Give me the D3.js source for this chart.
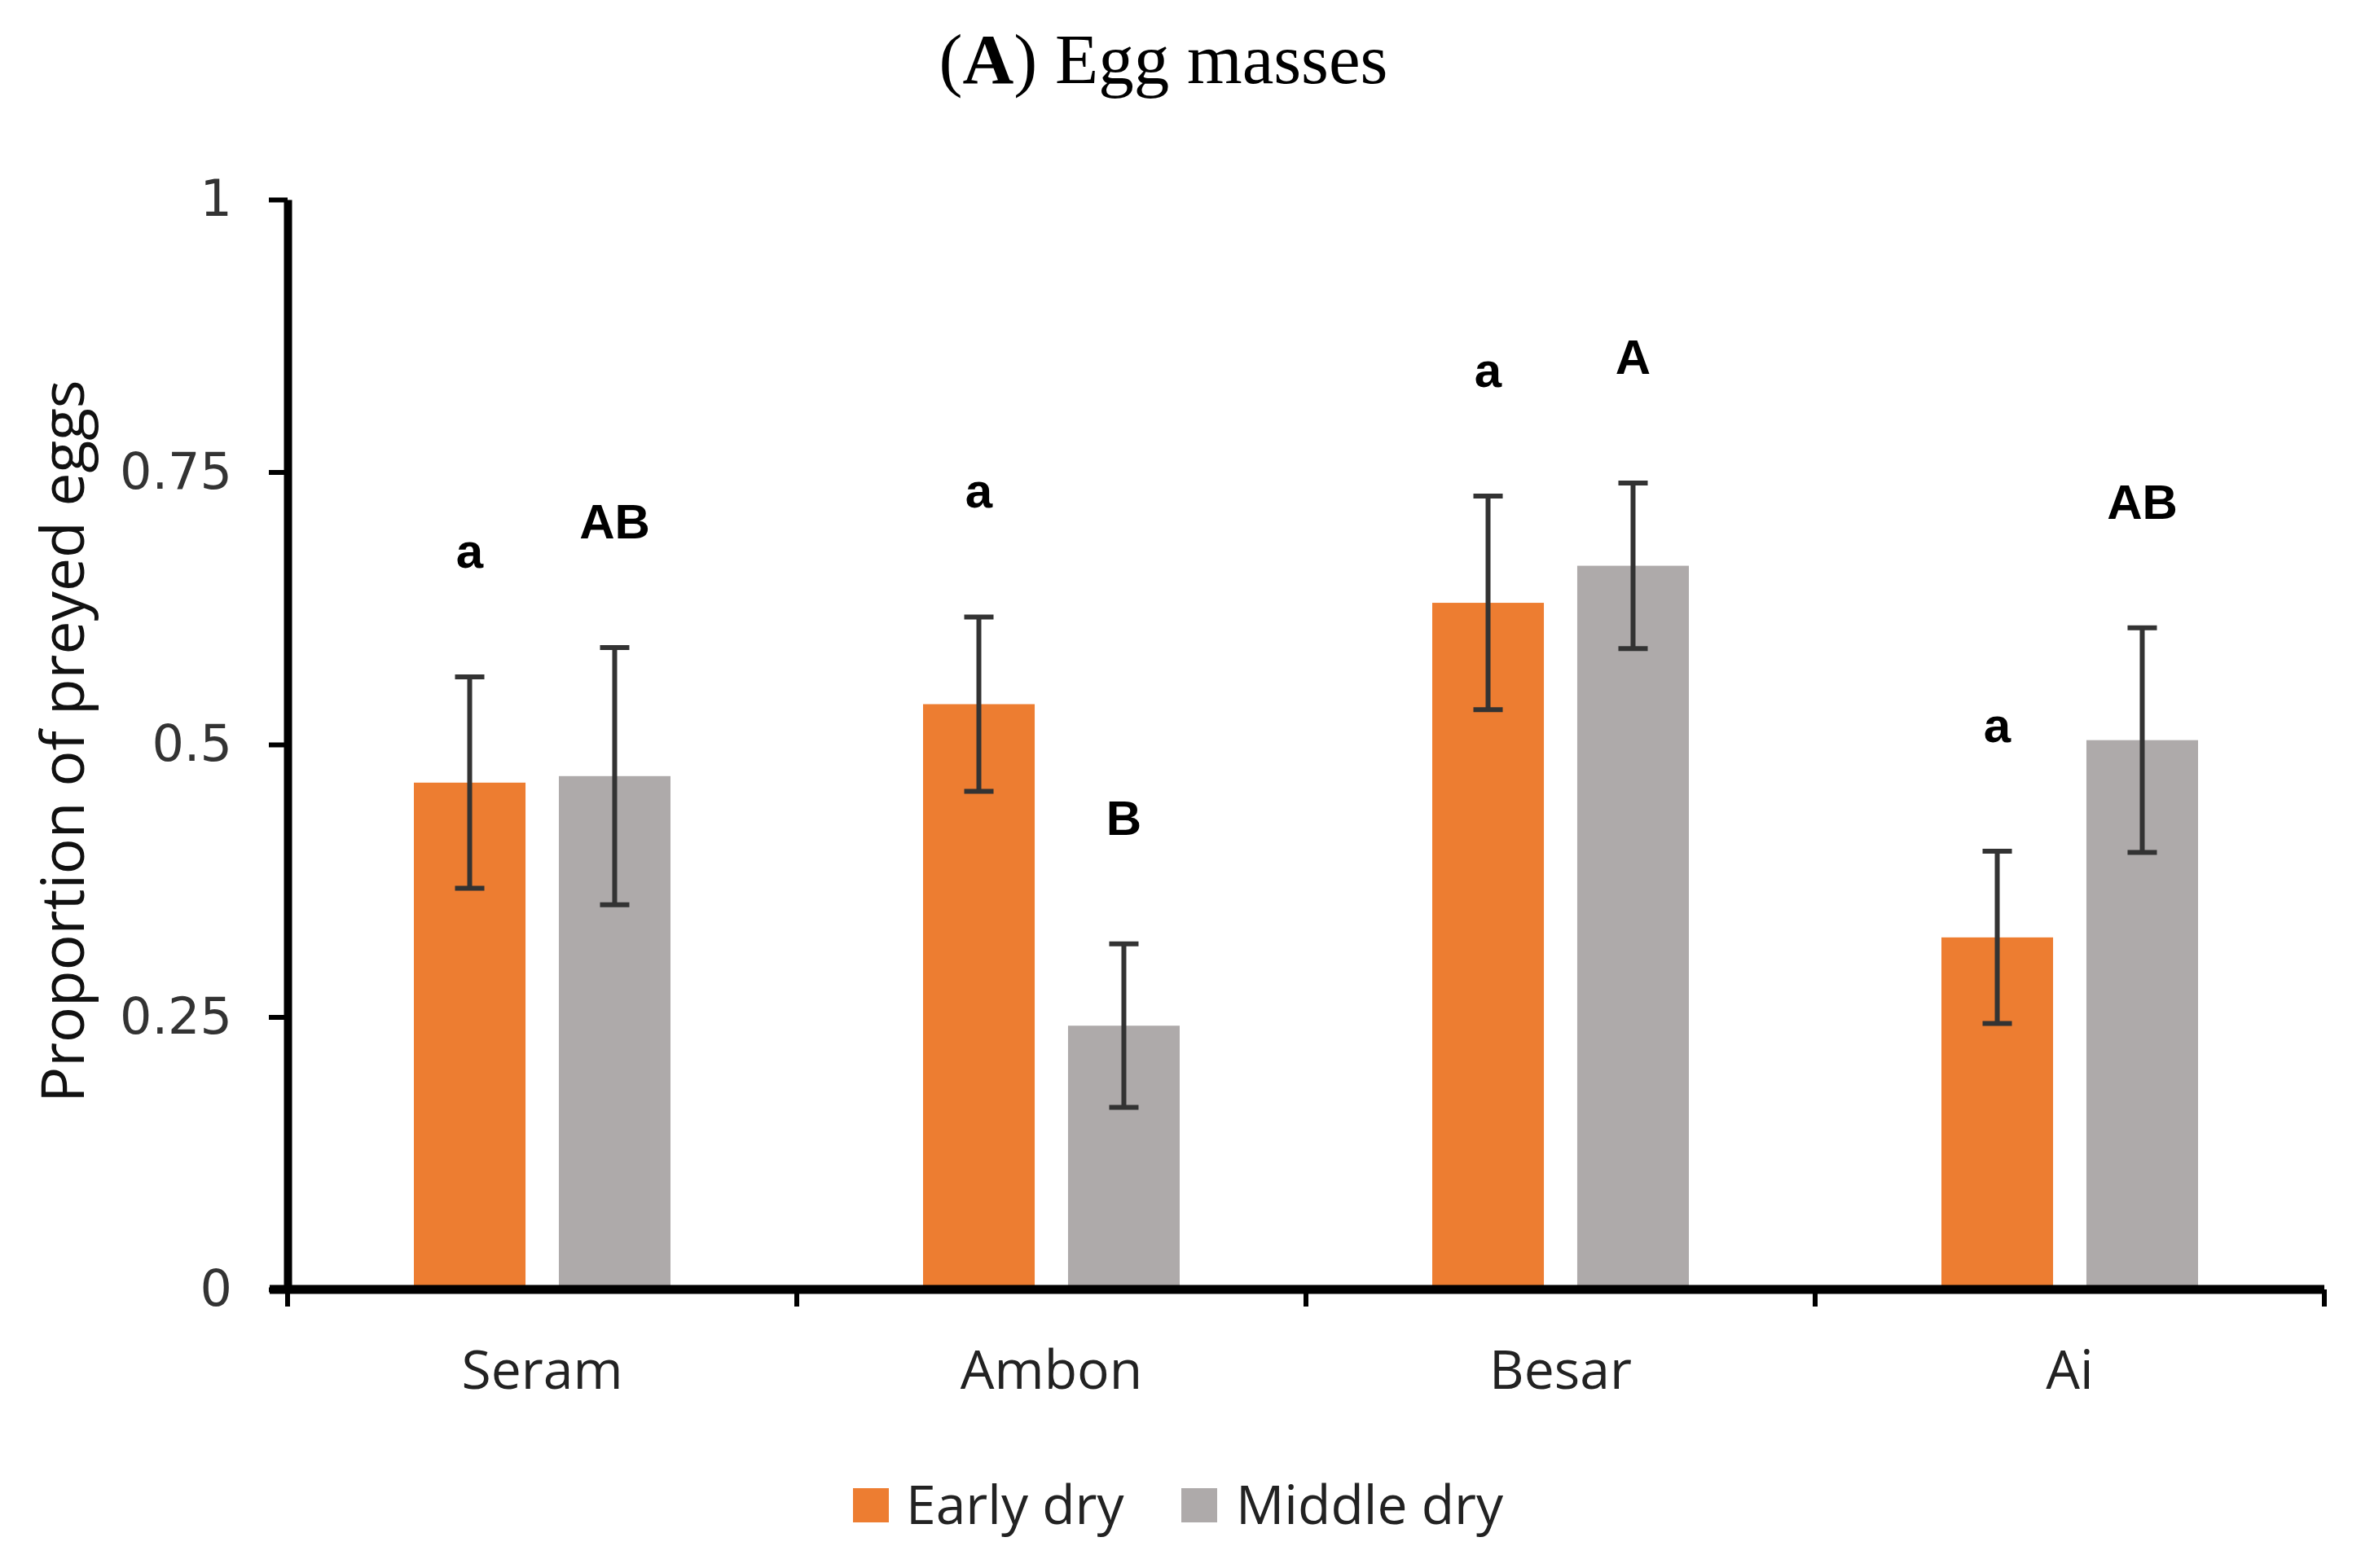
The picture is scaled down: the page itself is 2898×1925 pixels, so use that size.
<!DOCTYPE html>
<html>
<head>
<meta charset="utf-8">
<script src="https://cdn.jsdelivr.net/npm/d3@7"></script>
<style>
  body { margin: 0; background: #fff; }
  svg { display: block; }
</style>
</head>
<body>
<svg id="chart" width="2898" height="1925"></svg>
<script>
// Data
const islands = ["Seram", "Ambon", "Besar", "Ai"];
const seasons = ["Early dry", "Middle dry"];
const earlyDry = [0.465, 0.537, 0.630, 0.323];
const middleDry = [0.471, 0.242, 0.664, 0.504];
const earlyErr = [0.097, 0.080, 0.098, 0.079];
const middleErr = [0.118, 0.075, 0.076, 0.103];
const earlyLetters = ["a", "a", "a", "a"];
const middleLetters = ["AB", "B", "A", "AB"];
const yTicks = [0, 0.25, 0.5, 0.75, 1];
const yTickLabels = ["0", "0.25", "0.5", "0.75", "1"];

const colors = { "Early dry": "#ED7D31", "Middle dry": "#AEAAAA" };

// =======================================================================================
// Build the rows the bars are drawn from

const rows = [];
islands.forEach((island, i) => {
  rows.push({ island, season: "Early dry", value: earlyDry[i], err: earlyErr[i], letter: earlyLetters[i] });
  rows.push({ island, season: "Middle dry", value: middleDry[i], err: middleErr[i], letter: middleLetters[i] });
});

const svg = d3.select("#chart");

// Plot area
const plotLeft = 353, plotRight = 2853, plotTop = 245, plotBottom = 1583;

// Scales
const x0 = d3.scaleBand().domain(islands).range([plotLeft, plotRight]).padding(0);
const groupWidth = 315;
const x1 = d3.scaleBand().domain(seasons).range([0, groupWidth]).paddingInner(0.23).paddingOuter(0);
const groupOffset = (x0.bandwidth() - groupWidth) / 2;
const y = d3.scaleLinear().domain([0, 1]).range([plotBottom, plotTop]);

const barX = d => x0(d.island) + groupOffset + x1(d.season);

// Title
const title = svg.append("text")
  .attr("x", 1428)
  .attr("y", 102)
  .attr("text-anchor", "middle")
  .style("font-family", "'Liberation Serif', 'Times New Roman', serif")
  .style("font-size", "87px")
  .attr("fill", "#000");
title.append("tspan").text("(");
title.append("tspan").style("font-weight", "bold").text("A");
title.append("tspan").text(") Egg masses");

// Bars
svg.append("g")
  .selectAll("rect")
  .data(rows)
  .enter().append("rect")
  .attr("x", barX)
  .attr("y", d => y(d.value))
  .attr("width", x1.bandwidth())
  .attr("height", d => y(0) - y(d.value))
  .attr("fill", d => colors[d.season]);

// Error bars
const capHalf = 18;
const errG = svg.append("g")
  .attr("stroke", "#333")
  .attr("stroke-width", 6);

rows.forEach(d => {
  const cx = barX(d) + x1.bandwidth() / 2;
  errG.append("line")
    .attr("x1", cx).attr("x2", cx)
    .attr("y1", y(d.value + d.err)).attr("y2", y(d.value - d.err));
  errG.append("line")
    .attr("x1", cx - capHalf).attr("x2", cx + capHalf)
    .attr("y1", y(d.value + d.err)).attr("y2", y(d.value + d.err));
  errG.append("line")
    .attr("x1", cx - capHalf).attr("x2", cx + capHalf)
    .attr("y1", y(d.value - d.err)).attr("y2", y(d.value - d.err));
});

// Significance letters
svg.append("g")
  .selectAll("text")
  .data(rows)
  .enter().append("text")
  .attr("x", d => barX(d) + x1.bandwidth() / 2)
  .attr("y", d => y(d.value + d.err) - 134)
  .attr("text-anchor", "middle")
  .style("font-family", "'Liberation Sans', Arial, sans-serif")
  .style("font-weight", "bold")
  .style("font-size", "60px")
  .attr("fill", "#000")
  .text(d => d.letter);

// Y axis
const yAxis = d3.axisLeft(y)
  .tickValues(yTicks)
  .tickFormat((d, i) => yTickLabels[i])
  .tickSize(23)
  .tickSizeOuter(0)
  .tickPadding(45);

const yAxisG = svg.append("g")
  .attr("transform", `translate(${plotLeft},0)`)
  .call(yAxis);
yAxisG.select(".domain").attr("stroke", "#000").attr("stroke-width", 10);
yAxisG.selectAll(".tick line").attr("stroke", "#000").attr("stroke-width", 6);
yAxisG.selectAll(".tick text")
  .style("font-family", "'DejaVu Sans', sans-serif")
  .style("font-size", "62px")
  .attr("fill", "#333");

// X axis: line plus ticks on category boundaries
const xAxisG = svg.append("g");
xAxisG.append("line")
  .attr("x1", plotLeft - 22).attr("x2", plotRight)
  .attr("y1", y(0)).attr("y2", y(0))
  .attr("stroke", "#000").attr("stroke-width", 11);

const boundaries = islands.map(d => x0(d)).concat([x0(islands[islands.length - 1]) + x0.bandwidth()]);
xAxisG.selectAll(".bound")
  .data(boundaries)
  .enter().append("line")
  .attr("x1", d => d).attr("x2", d => d)
  .attr("y1", y(0)).attr("y2", y(0) + 21)
  .attr("stroke", "#000").attr("stroke-width", 6);

xAxisG.selectAll(".cat")
  .data(islands)
  .enter().append("text")
  .attr("x", d => x0(d) + x0.bandwidth() / 2)
  .attr("y", 1705)
  .attr("text-anchor", "middle")
  .style("font-family", "'Open Sans', sans-serif")
  .style("font-size", "66px")
  .attr("fill", "#222")
  .text(d => d);

// Y axis title
svg.append("text")
  .attr("transform", "translate(103,910) rotate(-90)")
  .attr("text-anchor", "middle")
  .style("font-family", "'Open Sans', sans-serif")
  .style("font-size", "73px")
  .attr("fill", "#111")
  .text("Proportion of preyed eggs");

// Legend
const legendItems = [
  { name: seasons[0], x: 1047, tx: 1112 },
  { name: seasons[1], x: 1450, tx: 1517 }
];
const legend = svg.append("g");
legendItems.forEach(item => {
  legend.append("rect")
    .attr("x", item.x).attr("y", 1827)
    .attr("width", 44).attr("height", 42)
    .attr("fill", colors[item.name]);
  legend.append("text")
    .attr("x", item.tx).attr("y", 1871)
    .style("font-family", "'Open Sans', sans-serif")
    .style("font-size", "66px")
    .attr("fill", "#222")
    .text(item.name);
});
</script>
</body>
</html>
